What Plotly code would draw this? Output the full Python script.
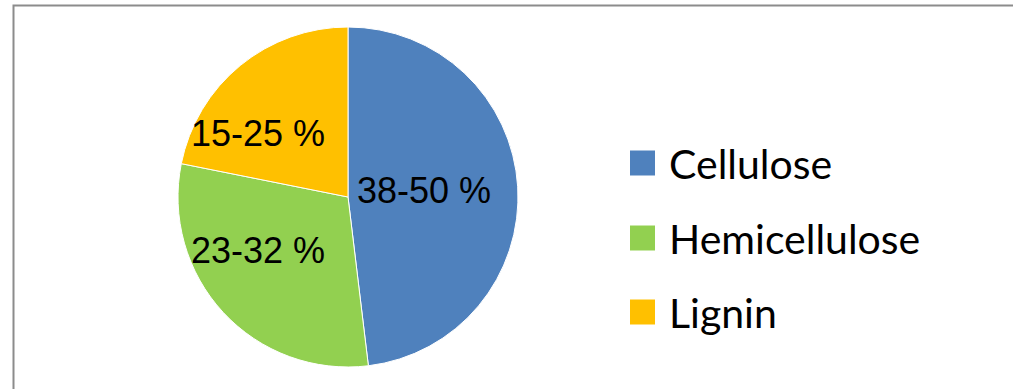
import plotly.graph_objects as go

labels = ["Cellulose", "Hemicellulose", "Lignin"]
ranges = ["38-50 %", "23-32 %", "15-25 %"]
values = [44, 27.5, 20]  # midpoints of ranges
colors = ["#4F81BD", "#92D050", "#FFC000"]

W, H = 1013, 389
cx, cy, R = 348, 197, 170

fig = go.Figure(go.Pie(
    labels=labels, values=values, text=ranges,
    textinfo="none",
    marker=dict(colors=colors, line=dict(color="white", width=1)),
    sort=False, direction="clockwise", rotation=0,
    showlegend=False, hoverinfo="label+text",
    domain=dict(x=[(cx - R) / W, (cx + R) / W], y=[(H - cy - R) / H, (H - cy + R) / H]),
))

# frame (left and top edges visible in the crop)
x0, y1 = 13.5 / W, 1 - 5.5 / H
shapes = [dict(type="path", xref="paper", yref="paper",
               path=f"M {x0},-0.2 L {x0},{y1} L 1.2,{y1}",
               line=dict(color="#8C8C8C", width=2))]
annotations = []

# slice labels (pixel positions in the chart)
label_px = [(424, 190), (258, 250), (258, 134)]
for txt, (px, py) in zip(ranges, label_px):
    annotations.append(dict(text=txt, xref="paper", yref="paper", x=px / W, y=(H - py) / H,
                            xanchor="center", yanchor="middle", showarrow=False,
                            font=dict(family="Liberation Sans, Arial", size=36, color="black")))

# legend
leg_y = [163, 238, 312]
for lab, col, yy in zip(labels, colors, leg_y):
    shapes.append(dict(type="rect", xref="paper", yref="paper",
                       x0=630 / W, x1=655 / W, y0=(H - yy - 12.5) / H, y1=(H - yy + 12.5) / H,
                       line=dict(width=0), fillcolor=col))
    annotations.append(dict(text=lab, xref="paper", yref="paper", x=667 / W, y=(H - yy) / H,
                            xanchor="left", yanchor="middle", showarrow=False,
                            font=dict(family="Lato", size=41, color="black")))

fig.update_layout(width=W, height=H, margin=dict(l=0, r=0, t=0, b=0),
                  paper_bgcolor="white", plot_bgcolor="white",
                  shapes=shapes, annotations=annotations)
fig.write_html("out.html")
